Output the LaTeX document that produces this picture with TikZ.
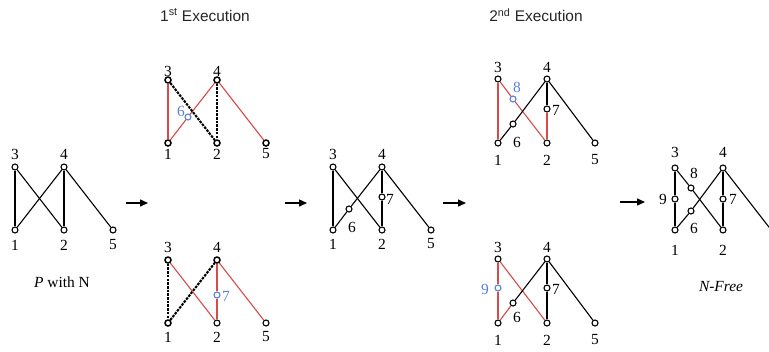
\documentclass[tikz,border=0pt]{standalone}
\usepackage{fontspec}
\setmainfont{Liberation Serif}
\newfontfamily\titlefont{Liberation Sans}
\usetikzlibrary{arrows.meta}
\definecolor{edgered}{RGB}{214,74,74}
\definecolor{nodeblue}{RGB}{88,128,218}
\begin{document}
\begin{tikzpicture}[x=1bp,y=-1bp,
  every node/.style={inner sep=0pt,font=\fontsize{15.5}{18}\selectfont},
  v/.style={circle,draw=black,fill=white,minimum size=6bp,line width=1.1bp},
  vb/.style={v,line width=1.5bp},
  vblue/.style={v,draw=nodeblue},
  ed/.style={line width=1.1bp,black},
  red/.style={line width=1.1bp,edgered},
  dsh/.style={line width=2.1bp,black,dash pattern=on 2.6bp off 1.1bp},
  lbl/.style={},
  blbl/.style={text=nodeblue},
  ttl/.style={font=\titlefont\fontsize{15.5}{18}\selectfont,text=black!85},
  arr/.style={line width=1.5bp,-{Triangle[length=8bp,width=7bp]}}
]
\useasboundingbox (0,0) rectangle (769,351);
\clip (0,0) rectangle (769,351);

% titles
\node[ttl] (t1) at (205,15) {1\textsuperscript{st} Execution};
\node[ttl] (t2) at (536,15) {2\textsuperscript{nd} Execution};

% ---------- Panel 1 : P with N
\node[v] (p3) at (15,167) {};
\node[v] (p4) at (64,167) {};
\node[v] (p1) at (15,230) {};
\node[v] (p2) at (64,230) {};
\node[v] (p5) at (113,230) {};
\draw[ed] (p3) -- (p1);
\draw[ed] (p3) -- (p2);
\draw[ed] (p1) -- (p4);
\draw[ed] (p4) -- (p2);
\draw[ed] (p4) -- (p5);
\node[lbl] (p3l) at (15,154) {3};
\node[lbl] (p4l) at (64,154) {4};
\node[lbl] (p1l) at (15,245) {1};
\node[lbl] (p2l) at (64,245) {2};
\node[lbl] (p5l) at (113,245) {5};
\node[lbl] (pcap) at (62,282) {\textit{P} with N};

% ---------- Panel 2 top
\node[vb] (q3) at (168,80) {};
\node[vb] (q4) at (217,80) {};
\node[vb] (q1) at (168,143) {};
\node[vb] (q2) at (217,143) {};
\node[vb] (q5) at (266,143) {};
\node[vblue] (q6) at (188,117) {};
\draw[red] (q3) -- (q1);
\draw[red] (q1) -- (q6);
\draw[red] (q6) -- (q4);
\draw[red] (q4) -- (q5);
\draw[dsh] (q3) -- (q2);
\draw[dsh] (q4) -- (q2);
\node[lbl] (q3l) at (168,71) {3};
\node[lbl] (q4l) at (217,71) {4};
\node[lbl] (q1l) at (168,154) {1};
\node[lbl] (q2l) at (217,154) {2};
\node[lbl] (q5l) at (266,154) {5};
\node[blbl] (q6l) at (181,111) {6};

% ---------- Panel 2 bottom
\node[vb] (r3) at (168,260) {};
\node[vb] (r4) at (217,260) {};
\node[vb] (r1) at (168,323) {};
\node[v] (r2) at (217,323) {};
\node[v] (r5) at (266,323) {};
\node[vblue] (r7) at (217,295) {};
\draw[dsh] (r3) -- (r1);
\draw[dsh] (r1) -- (r4);
\draw[red] (r3) -- (r2);
\draw[red] (r4) -- (r7);
\draw[red] (r7) -- (r2);
\draw[red] (r4) -- (r5);
\node[lbl] (r3l) at (168,247) {3};
\node[lbl] (r4l) at (217,247) {4};
\node[lbl] (r1l) at (168,337) {1};
\node[lbl] (r2l) at (217,337) {2};
\node[lbl] (r5l) at (266,337) {5};
\node[blbl] (r7l) at (226,296) {7};

% ---------- Panel 3
\node[v] (s3) at (333,167) {};
\node[v] (s4) at (382,167) {};
\node[v] (s1) at (333,230) {};
\node[v] (s2) at (382,230) {};
\node[v] (s5) at (431,230) {};
\node[v] (s6) at (349,209) {};
\node[v] (s7) at (382,197) {};
\draw[ed] (s3) -- (s1);
\draw[ed] (s3) -- (s2);
\draw[ed] (s1) -- (s6);
\draw[ed] (s6) -- (s4);
\draw[ed] (s4) -- (s7);
\draw[ed] (s7) -- (s2);
\draw[ed] (s4) -- (s5);
\node[lbl] (s3l) at (333,154) {3};
\node[lbl] (s4l) at (382,154) {4};
\node[lbl] (s1l) at (333,244) {1};
\node[lbl] (s2l) at (382,244) {2};
\node[lbl] (s5l) at (431,244) {5};
\node[lbl] (s6l) at (352,227) {6};
\node[lbl] (s7l) at (390,199) {7};

% ---------- Panel 4 top
\node[v] (t3) at (498,79) {};
\node[v] (t4) at (547,79) {};
\node[v] (t1n) at (498,143) {};
\node[v] (t2n) at (547,143) {};
\node[v] (t5) at (595,143) {};
\node[vblue] (t8) at (513,99) {};
\node[v] (t6) at (513,124) {};
\node[v] (t7) at (547,109) {};
\draw[red] (t3) -- (t1n);
\draw[red] (t3) -- (t8);
\draw[red] (t8) -- (t2n);
\draw[red] (t7) -- (t2n);
\draw[ed] (t1n) -- (t6);
\draw[ed] (t6) -- (t4);
\draw[ed] (t4) -- (t7);
\draw[ed] (t4) -- (t5);
\node[lbl] (t3l) at (498,67) {3};
\node[lbl] (t4l) at (547,67) {4};
\node[lbl] (t1l) at (498,160) {1};
\node[lbl] (t2l) at (547,160) {2};
\node[lbl] (t5l) at (595,160) {5};
\node[blbl] (t8l) at (517,87) {8};
\node[lbl] (t6l) at (517,142) {6};
\node[lbl] (t7l) at (556,110) {7};

% ---------- Panel 4 bottom
\node[v] (u3) at (498,259) {};
\node[v] (u4) at (547,259) {};
\node[v] (u1) at (498,323) {};
\node[v] (u2) at (547,323) {};
\node[v] (u5) at (595,323) {};
\node[vblue] (u9) at (498,288) {};
\node[v] (u6) at (513,303) {};
\node[v] (u7) at (547,288) {};
\draw[red] (u3) -- (u9);
\draw[red] (u9) -- (u1);
\draw[red] (u3) -- (u2);
\draw[red] (u1) -- (u6);
\draw[ed] (u6) -- (u4);
\draw[ed] (u4) -- (u7);
\draw[ed] (u7) -- (u2);
\draw[ed] (u4) -- (u5);
\node[lbl] (u3l) at (498,247) {3};
\node[lbl] (u4l) at (547,247) {4};
\node[lbl] (u1l) at (498,340) {1};
\node[lbl] (u2l) at (547,340) {2};
\node[lbl] (u5l) at (595,340) {5};
\node[blbl] (u9l) at (485,289) {9};
\node[lbl] (u6l) at (517,317) {6};
\node[lbl] (u7l) at (556,289) {7};

% ---------- Panel 5 : N-Free
\node[v] (w3) at (675,168) {};
\node[v] (w4) at (723,168) {};
\node[v] (w1) at (675,230) {};
\node[v] (w2) at (723,230) {};
\coordinate (w5) at (772,231);
\node[v] (w9) at (675,199) {};
\node[v] (w8) at (691,188) {};
\node[v] (w6) at (691,211) {};
\node[v] (w7) at (723,199) {};
\draw[ed] (w3) -- (w9);
\draw[ed] (w9) -- (w1);
\draw[ed] (w3) -- (w8);
\draw[ed] (w8) -- (w2);
\draw[ed] (w1) -- (w6);
\draw[ed] (w6) -- (w4);
\draw[ed] (w4) -- (w7);
\draw[ed] (w7) -- (w2);
\draw[ed] (w4) -- (w5);
\node[lbl] (w3l) at (675,152) {3};
\node[lbl] (w4l) at (723,152) {4};
\node[lbl] (w1l) at (675,250) {1};
\node[lbl] (w2l) at (723,250) {2};
\node[lbl] (w9l) at (663,199) {9};
\node[lbl] (w8l) at (694,173) {8};
\node[lbl] (w6l) at (694,228) {6};
\node[lbl] (w7l) at (733,199) {7};
\node[lbl] (wcap) at (721,287) {\textit{N-Free}};

% ---------- arrows
\coordinate (a1s) at (126,203); \coordinate (a1e) at (148,203);
\coordinate (a2s) at (285,203); \coordinate (a2e) at (307,203);
\coordinate (a3s) at (443,203); \coordinate (a3e) at (466,203);
\coordinate (a4s) at (620,202); \coordinate (a4e) at (645,202);
\draw[arr] (a1s) -- (a1e);
\draw[arr] (a2s) -- (a2e);
\draw[arr] (a3s) -- (a3e);
\draw[arr] (a4s) -- (a4e);
\end{tikzpicture}
\end{document}
